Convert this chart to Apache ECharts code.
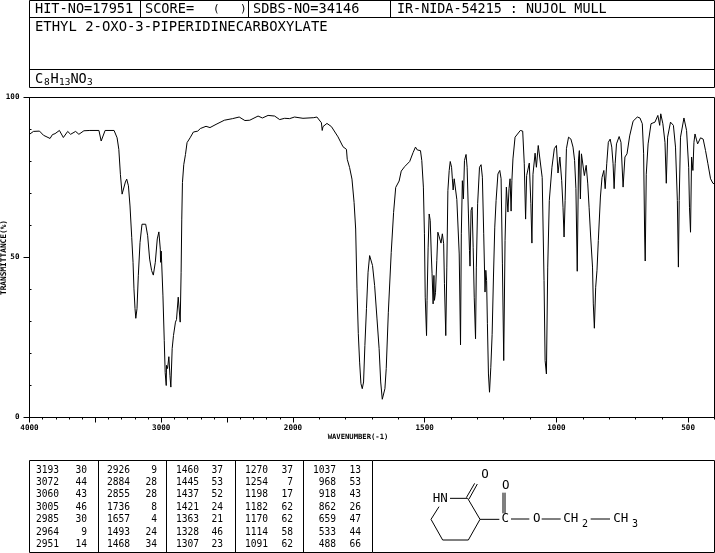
<!DOCTYPE html>
<html><head><meta charset="utf-8">
<script src="https://cdn.jsdelivr.net/npm/echarts@6/dist/echarts.min.js"></script>
<style>html,body{margin:0;padding:0;background:#fff}#c{width:715px;height:553px}</style></head>
<body><div id="c"></div>
<script>
const wavenumbers=[4000,3970,3924,3894,3844,3826,3806,3773,3743,3710,3688,3650,3625,3587,3542,3473,3456,3426,3358,3335,3322,3310,3297,3287,3272,3262,3249,3237,3224,3214,3207,3199,3193,3184,3174,3161,3146,3118,3103,3088,3073,3060,3045,3030,3018,3007,3005,3000,2987,2977,2970,2962,2960,2952,2942,2934,2927,2917,2907,2892,2884,2871,2861,2856,2849,2844,2839,2829,2816,2804,2781,2756,2723,2703,2660,2630,2584,2521,2458,2408,2365,2328,2265,2232,2189,2139,2101,2063,2025,1994,1962,1921,1909,1892,1889,1886,1871,1854,1829,1810,1797,1794,1785,1776,1768,1762,1757,1752,1747,1742,1737,1732,1727,1721,1715,1709,1705,1698,1690,1681,1673,1667,1661,1657,1651,1646,1638,1627,1618,1610,1597,1589,1576,1557,1544,1535,1532,1528,1516,1511,1505,1501,1498,1493,1491,1487,1483,1479,1475,1472,1468,1465,1463,1459,1454,1450,1444,1438,1433,1428,1425,1420,1416,1412,1407,1403,1398,1395,1392,1388,1385,1378,1373,1369,1364,1361,1357,1353,1349,1343,1339,1334,1330,1328,1324,1320,1316,1312,1307,1304,1299,1292,1286,1281,1276,1271,1268,1265,1262,1258,1254,1249,1244,1239,1234,1229,1222,1215,1210,1205,1200,1195,1190,1184,1180,1176,1172,1169,1165,1157,1137,1128,1122,1117,1113,1103,1097,1093,1089,1081,1076,1069,1064,1054,1047,1043,1038,1033,1027,1017,1008,1000,994,987,980,975,971,967,962,954,945,937,931,926,921,916,913,909,905,901,894,887,881,876,870,863,860,856,851,846,841,833,827,820,815,809,803,796,790,785,781,777,772,762,755,747,740,732,722,709,693,683,674,669,665,663,659,652,641,626,615,608,604,596,588,583,578,567,556,548,541,537,534,529,516,506,498,495,491,487,482,478,474,469,464,453,443,434,425,415,406,400];
const transmittance=[88.5,89.4,89.5,88.2,87.2,88.4,88.7,89.7,87.5,89.4,88.5,89.4,88.5,89.6,89.7,89.7,86.4,89.7,89.7,87.4,83.8,76,69.8,69.3,73.6,74.5,72.4,66.1,56.3,48.5,40.2,34,31,34,44.3,54.7,60.4,60.4,56.8,49.5,45.9,44.5,48.5,55.8,58,52.6,48.5,52,38,24,14,10,16.3,15.3,19,13.2,9.5,21.5,25.6,29.8,30.6,37.6,37.6,29.8,45.4,62,73.4,79,82.2,85.9,87.4,89.2,89.5,90.3,91,90.6,91.6,92.9,93.4,93.9,92.8,92.9,94.2,93.6,94.4,94.2,93.1,93.5,93.4,93.9,93.5,93.7,93.9,92.1,89.7,90.9,91.9,90.9,87.7,84.6,83.8,80.7,78.1,74.5,67.2,58.9,40.2,26.2,17.3,10.6,9,11.1,22.5,34,45.4,50.6,51.1,47.5,41.2,30.8,21.5,11.1,5.7,5.1,9,15.3,32.9,51.6,64.1,71.9,73.9,77,78.4,80,82.8,84.5,84.8,83.6,83.4,80.3,72,57.4,37.6,25.6,36.6,53,63.6,61.6,51.1,44.9,35.5,44.4,36.6,39,49,57.9,57.6,54.5,57.4,54.3,41.8,25.6,47,70.9,77.2,80,78.2,74.6,71.1,74.6,74,68.1,67.8,51.1,22.7,57.4,74,68.3,80.3,82.2,78.2,63.6,52.2,47.3,64.7,65.7,53.2,37.6,24.6,47,66.8,78.2,79,75.1,57.4,39.2,46,42.8,29.3,13.6,7.9,15.7,26,43.9,59.5,67.8,76.1,77.2,74.6,48,17.8,55.3,72,64.2,71.5,74.6,64.5,74,80.8,87.6,89.7,89.5,79.3,62,75.6,79.5,66.8,54.5,76,82.6,78.2,85,85,75,42.8,17.8,13.6,47,67.8,78.2,84,85,76.4,81.4,74,65.7,56.4,67.8,84,87.6,87,84.5,80.3,71.5,45.7,80.8,83.4,68.3,82.4,81.9,75.6,78.8,73,65.7,56.4,47,35.5,27.9,40.7,46,55.3,68.9,75,77.2,71.5,79.3,86,87,84.5,79.3,71.5,79.3,85.5,87.8,86,72,81.4,82.4,88,92.6,93.9,93.6,91.8,82.4,56.4,48.9,76,85.5,91.8,92.3,94.4,91.3,94.9,91.8,86,73.2,87.6,92.3,91.3,84.5,67.8,47,67.8,87.6,93.6,89.7,78.2,65.7,57.9,81.4,77.2,86,88.6,87,85.5,87.4,87,83.4,79.3,74.6,73.2,73];
const hitNo="HIT-NO=17951", scoreLabel="SCORE=", sdbsNo="SDBS-NO=34146", source="IR-NIDA-54215 : NUJOL MULL";
const compound="ETHYL 2-OXO-3-PIPERIDINECARBOXYLATE";
const peakColumns=[
 [["3193","30"],["3072","44"],["3060","43"],["3005","46"],["2985","30"],["2964","9"],["2951","14"]],
 [["2926","9"],["2884","28"],["2855","28"],["1736","8"],["1657","4"],["1493","24"],["1468","34"]],
 [["1460","37"],["1445","53"],["1437","52"],["1421","24"],["1363","21"],["1328","46"],["1307","23"]],
 [["1270","37"],["1254","7"],["1198","17"],["1182","62"],["1170","62"],["1114","58"],["1091","62"]],
 [["1037","13"],["968","53"],["918","43"],["862","26"],["659","47"],["533","44"],["488","66"]]
];
const xLabelWavenumbers=[4000,3000,2000,1500,1000,500];
const xMajorWavenumbers=[4000,3500,3000,2500,2000,1500,1000,500];
const xMinorWavenumbers=[3900,3800,3700,3600,3400,3300,3200,3100,2900,2800,2700,2600,2400,2300,2200,2100,1900,1800,1700,1600,1400,1300,1200,1100,900,800,700,600,400];
const yLabelValues=[0,50,100];
const yMinorValues=[10,20,30,40,60,70,80,90];

// The spectrum's x scale halves below 2000 cm-1: map wavenumber to a linear axis unit.
const toAxis=w=>w>=2000?(4000-w)/2:1000+(2000-w);
const toWavenumber=u=>u<=1000?4000-2*u:2000-(u-1000);
const F='"DejaVu Sans Mono",monospace';
const L=(x1,y1,x2,y2,w)=>({type:'line',silent:true,shape:{x1,y1,x2,y2},style:{stroke:'#000',lineWidth:w||1}});
const T=(x,y,text,size,align,extra)=>({type:'text',silent:true,x,y,rotation:(extra&&extra.rot)||0,style:{text,font:`${(extra&&extra.bold)?'bold ':''}${size}px ${F}`,fill:'#000',align:align||'left',verticalAlign:'middle'}});
const g=[];
// header box
[[29.5,0.5,714.5,0.5],[29.5,17.5,714.5,17.5],[29.5,69.5,714.5,69.5],[29.5,87.5,714.5,87.5],[29.5,0.5,29.5,87.5],[714.5,0.5,714.5,87.5],[140.5,0.5,140.5,17.5],[248.5,0.5,248.5,17.5],[390.5,0.5,390.5,17.5]].forEach(a=>g.push(L(...a)));
g.push(T(35,9.5,hitNo,13.6),T(145,9.5,scoreLabel,13.6),T(213,9.5,'(',11),T(240,9.5,')',11),T(253,9.5,sdbsNo,13.6),T(397,9.5,source,13.4),T(35,27,compound,13.9));
g.push(T(35,79,'C',13.6),T(44,83,'8',9.5),T(50.5,79,'H',13.6),T(59,83,'13',9.5),T(70.5,79,'N',13.6),T(78.5,79,'O',13.6),T(87,83,'3',9.5));
// peak table
[[29.5,460.5,372.5,460.5],[29.5,552.5,372.5,552.5],[29.5,460.5,29.5,552.5],[98.5,460.5,98.5,552.5],[166.5,460.5,166.5,552.5],[235.5,460.5,235.5,552.5],[303.5,460.5,303.5,552.5],[372.5,460.5,372.5,552.5],[372.5,460.5,714.5,460.5],[372.5,552.5,714.5,552.5],[714.5,460.5,714.5,552.5]].forEach(a=>g.push(L(...a)));
const colX=[[59,87],[130,157],[199,223],[268,293],[336,361]];
peakColumns.forEach((col,i)=>col.forEach((r,j)=>{const y=470+j*12.4;g.push(T(colX[i][0],y,r[0],9.6,'right'),T(colX[i][1],y,r[1],9.6,'right'));}));
// structure
const mx=z=>370+z/3,my=z=>450+z/3;
[[240,145,293,145],[293,145,330,208],[330,208,295,270],[295,270,218,270],[218,270,183,208],[183,208,207,170],[289,143,314,100],[297,147,322,102],[330,208,388,208],[399,190,399,128],[405,190,405,128],[423,207,478,207],[515,207,572,207],[662,207,720,207]].forEach(s=>g.push(L(mx(s[0]),my(s[1]),mx(s[2]),my(s[3]))));
g.push(T(mx(188),my(147),'HN',12.5),T(mx(345),my(73),'O',12.5,'center'),T(mx(407),my(107),'O',12.5,'center'),T(mx(406),my(207),'C',12.5,'center'),T(mx(500),my(207),'O',12.5,'center'),T(mx(580),my(207),'CH',12.5),T(mx(636),my(224),'2',10),T(mx(730),my(207),'CH',12.5),T(mx(786),my(224),'3',10));
// axis names
g.push(T(358,437.5,'WAVENUMBER(-1)',7.2,'center',{bold:true}));
g.push(T(4,257.5,'TRANSMITTANCE(%)',7.8,'center',{rot:Math.PI/2,bold:true}));
// right edge and top of the plot
g.push(L(714.5,97.5,714.5,417.5),L(29.5,97.5,714.5,97.5));

const lineBlack={color:'#000',width:1};
const chart=echarts.init(document.getElementById('c'),null,{renderer:'canvas'});
chart.setOption({
 animation:false,
 backgroundColor:'#fff',
 grid:{left:29.5,right:0.5,top:97.5,bottom:135.5,show:false},
 xAxis:[{type:'value',min:0,max:2600,position:'bottom',
  axisLine:{show:true,lineStyle:lineBlack},
  axisTick:{show:true,length:5,customValues:xMajorWavenumbers.map(toAxis),lineStyle:lineBlack},
  splitLine:{show:false},
  axisLabel:{show:true,margin:7,customValues:xLabelWavenumbers.map(toAxis),color:'#000',fontFamily:F,fontWeight:'bold',fontSize:7.6,formatter:v=>String(toWavenumber(v))}},
 {type:'value',min:0,max:2600,position:'bottom',
  axisLine:{show:false},
  axisTick:{show:true,length:2,customValues:xMinorWavenumbers.map(toAxis),lineStyle:lineBlack},
  splitLine:{show:false},axisLabel:{show:false}}],
 yAxis:[{type:'value',min:0,max:100,position:'left',
  axisLine:{show:true,onZero:false,lineStyle:lineBlack},
  axisTick:{show:true,length:6,customValues:yLabelValues,lineStyle:lineBlack},
  splitLine:{show:false},
  axisLabel:{show:true,margin:10,customValues:yLabelValues,color:'#000',fontFamily:F,fontWeight:'bold',fontSize:7.6,formatter:v=>String(v)}},
 {type:'value',min:0,max:100,position:'left',
  axisLine:{show:false},
  axisTick:{show:true,inside:true,length:2,customValues:yMinorValues,lineStyle:lineBlack},
  splitLine:{show:false},axisLabel:{show:false}}],
 series:[{type:'line',data:wavenumbers.map((w,i)=>[toAxis(w),transmittance[i]]),showSymbol:false,symbol:'none',clip:true,
  lineStyle:{color:'#000',width:1},emphasis:{disabled:true},silent:true}],
 graphic:g
});
</script></body></html>
